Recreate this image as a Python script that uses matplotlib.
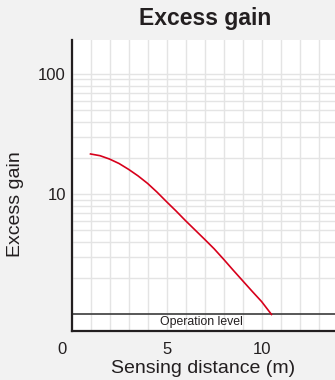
import matplotlib
matplotlib.use("Agg")
import matplotlib.pyplot as plt
import matplotlib.transforms as mtransforms
from matplotlib.ticker import NullFormatter, FixedLocator

# Data
distance_m = [1.0, 1.5, 2.0, 2.5, 3.0, 3.5, 4.0, 4.5, 5.0, 5.5, 6.0, 6.5,
              7.0, 7.5, 8.0, 8.5, 9.0, 9.5, 10.0, 10.52]
excess_gain = [21.6, 20.9, 19.6, 18.0, 16.1, 14.2, 12.3, 10.4, 8.66, 7.25, 6.02, 5.04,
               4.22, 3.52, 2.88, 2.34, 1.91, 1.56, 1.28, 1.0]
x_ticks = [0, 5, 10]
y_ticks = [10, 100]
operation_level = 1.0

TXT = "#231f20"
fig = plt.figure(figsize=(3.35, 3.8), dpi=100)
fig.patch.set_facecolor("#f2f2f2")
ax = fig.add_axes([71.5 / 335, 49 / 380, 1 - 71.5 / 335, (331 - 40) / 380])
ax.set_facecolor("white")

ax.set_yscale("log")
ax.set_xlim(0, 13.86)
ax.set_ylim(0.729, 191.4)

# grid
ax.xaxis.set_minor_locator(FixedLocator(list(range(1, 14))))
ax.yaxis.set_minor_locator(FixedLocator([v * d for d in (1, 10) for v in range(2, 10)]))
ax.yaxis.set_minor_formatter(NullFormatter())
ax.set_xticks(x_ticks)
ax.set_yticks(y_ticks)
ax.set_yticklabels([str(v) for v in y_ticks])
ax.grid(True, which="both", color="#e4e4e4", linewidth=1.0)
ax.set_axisbelow(True)
ax.tick_params(which="both", length=0, colors=TXT, labelsize=12)
ax.tick_params(axis="x", pad=8)
ax.tick_params(axis="y", pad=4)
for lab in ax.get_xticklabels() + ax.get_yticklabels():
    lab.set_fontfamily("Liberation Sans")

# shift the "0" label left like the reference
offset = mtransforms.ScaledTranslation(-9 / 100, 0, fig.dpi_scale_trans)
ax.get_xticklabels()[0].set_transform(ax.get_xticklabels()[0].get_transform() + offset)

for s in ("top", "right"):
    ax.spines[s].set_visible(False)
for s in ("left", "bottom"):
    ax.spines[s].set_color(TXT)
    ax.spines[s].set_linewidth(1.6)

ax.axhline(operation_level, color="#4a4a4a", linewidth=1.3)
ax.text(6.84, 0.87, "Operation level", ha="center", va="center", fontsize=8.8,
        color=TXT, family="Liberation Sans")

ax.plot(distance_m, excess_gain, color="#d7001b", linewidth=1.2)

ax.set_xlabel("Sensing distance (m)", fontsize=14, color=TXT, family="Liberation Sans", labelpad=2)
ax.set_ylabel("Excess gain", fontsize=14, color=TXT, family="Liberation Sans")
ax.yaxis.set_label_coords(-0.18, 0.436)
fig.text(205 / 335, 1 - 18 / 380, "Excess gain", ha="center", va="center",
         fontsize=16.5, fontweight="bold", color=TXT, family="Liberation Sans")

fig.savefig("out.png", dpi=100, facecolor=fig.get_facecolor())
